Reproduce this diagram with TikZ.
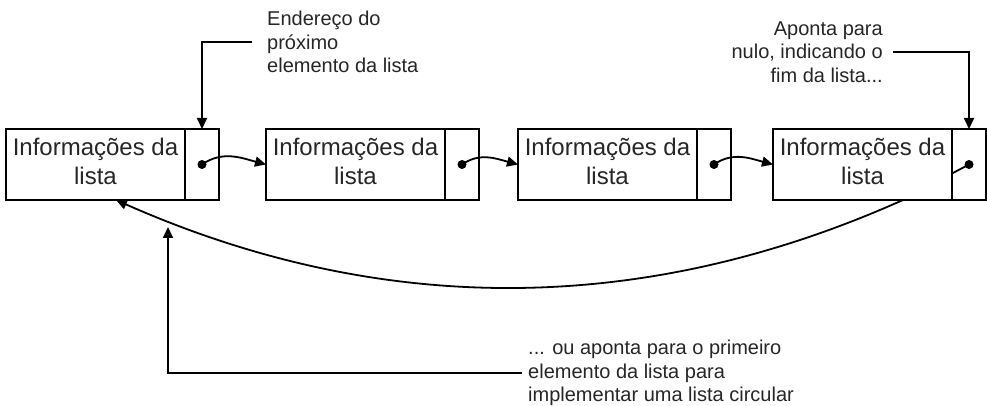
\documentclass[tikz,border=0pt]{standalone}
\usepackage{fontspec}
\setmainfont{Liberation Sans}
\usetikzlibrary{arrows.meta,calc}
\tikzset{
  x=1pt,y=1pt,
  conn/.style={line width=1.8pt, draw=black},
  arr/.style={conn, -{Triangle[length=11pt,width=10pt]}},
  info/.style={draw, line width=1.8pt, minimum width=179pt, minimum height=71pt,
    inner sep=0pt, outer sep=0pt, align=center, text=black!85,
    font=\fontsize{24}{29}\selectfont, text depth=5.5pt},
  ptrcell/.style={draw, line width=1.8pt, minimum width=34pt, minimum height=71pt,
    inner sep=0pt, outer sep=0pt},
  dotnode/.style={circle, fill=black, minimum size=9pt, inner sep=0pt},
  note/.style={inner ysep=0pt, text=black!85, font=\fontsize{20}{23.5}\selectfont}
}
\begin{document}
\begin{tikzpicture}
\useasboundingbox (0,0) rectangle (987,406);
% boxes
\node[info, anchor=south west] (i1) at (6,206) {Informações da\\lista};
\node[ptrcell, anchor=west] (p1) at (i1.east) {};
\node[info, anchor=south west] (i2) at (266,206) {Informações da\\lista};
\node[ptrcell, anchor=west] (p2) at (i2.east) {};
\node[info, anchor=south west] (i3) at (518,206) {Informações da\\lista};
\node[ptrcell, anchor=west] (p3) at (i3.east) {};
\node[info, anchor=south west] (i4) at (773,206) {Informações da\\lista};
\node[ptrcell, anchor=west] (p4) at (i4.east) {};
% dots
\node[dotnode] (d1) at (p1.center) {};
\node[dotnode] (d2) at (p2.center) {};
\node[dotnode] (d3) at (p3.center) {};
\node[dotnode] (d4) at (p4.center) {};
% links
\draw[arr] (d1.center) to[out=35,in=165] (i2.west);
\draw[arr] (d2.center) to[out=35,in=165] (i3.west);
\draw[arr] (d3.center) to[out=35,in=165] (i4.west);
% null pointer
\coordinate (n4) at ($(p4.west)+(0,-9)$);
\draw[conn] (d4.center) -- (n4);
% circular link
\coordinate (c4) at ($(i4.south west)+(130,0)$);
\coordinate (c1) at ($(i1.south west)+(110,0)$);
\draw[arr] (c4) .. controls +(-262.3,-117.3) and +(262.3,-116) .. (c1);
% callouts
\node[note, anchor=west, inner xsep=15pt, align=left] (t1) at (252,364)
  {Endereço do\\próximo\\elemento da lista};
\draw[arr] (t1.west) -| (p1.north);
\node[note, anchor=east, inner xsep=10pt, align=right] (t2) at (893,354)
  {Aponta para\\nulo, indicando o\\fim da lista...};
\draw[arr] (t2.east) -| (p4.north);
\node[note, anchor=west, inner xsep=6pt, align=left] (t3) at (522,33)
  {... ou aponta para o primeiro\\elemento da lista para\\implementar uma lista circular};
\coordinate (a3) at (168,179);
\draw[arr] (t3.west) -| (a3);
\end{tikzpicture}
\end{document}
